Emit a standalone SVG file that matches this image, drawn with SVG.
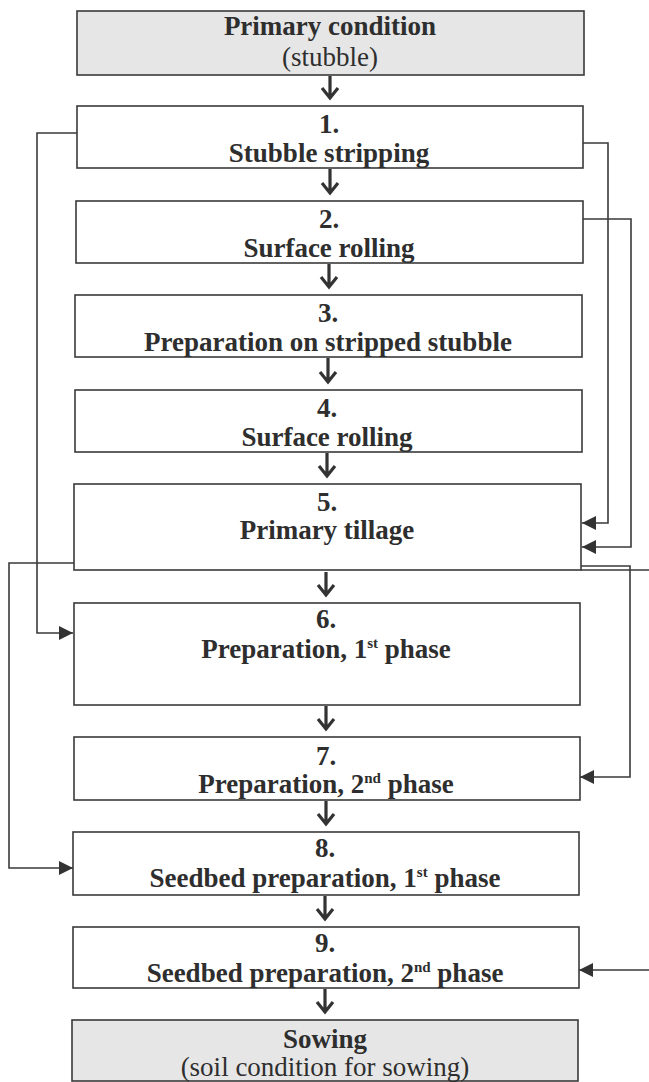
<svg xmlns="http://www.w3.org/2000/svg" width="649" height="1082" viewBox="0 0 649 1082">
<style>
.box{fill:#ffffff;stroke:#3a3a3a;stroke-width:1.6}
.gray{fill:#e6e6e6}
.t{font-family:"Liberation Serif","Times New Roman",serif;font-size:27px;font-weight:bold;fill:#2e2e2e;text-anchor:middle}
.r{font-weight:normal}
.sup{font-size:15px}
.conn{fill:none;stroke:#3a3a3a;stroke-width:1.6}
.down{fill:none;stroke:#333;stroke-width:3.2}
</style>
<defs>
<marker id="ah" markerUnits="userSpaceOnUse" markerWidth="14" markerHeight="14" refX="14" refY="7" orient="auto" viewBox="0 0 14 14">
<path d="M0,0 L14,7 L0,14 z" fill="#333"/>
</marker>
</defs>
<rect width="649" height="1082" fill="#ffffff"/>

<g id="connectors">
<path class="conn" d="M77,133 H37 V633 H73" marker-end="url(#ah)"/>
<path class="conn" d="M583,143 H608 V523 H582" marker-end="url(#ah)"/>
<path class="conn" d="M583,219 H631 V547 H582" marker-end="url(#ah)"/>
<path class="conn" d="M74,563 H9 V868 H73" marker-end="url(#ah)"/>
<path class="conn" d="M581,566 H630 V777 H580" marker-end="url(#ah)"/>
<path class="conn" d="M581,570 H660 V970 H579" marker-end="url(#ah)"/>
<path class="down" d="M330,76 V98 M322,88 L330,98 L338,88"/>
<path class="down" d="M330,169 V193 M322,183 L330,193 L338,183"/>
<path class="down" d="M329,264 V287 M321,277 L329,287 L337,277"/>
<path class="down" d="M328,358 V382 M320,372 L328,382 L336,372"/>
<path class="down" d="M327,453 V476 M319,466 L327,476 L335,466"/>
<path class="down" d="M326,572 V595 M318,585 L326,595 L334,585"/>
<path class="down" d="M326,706 V729 M318,719 L326,729 L334,719"/>
<path class="down" d="M326,801 V824 M318,814 L326,824 L334,814"/>
<path class="down" d="M325,896 V919 M317,909 L325,919 L333,909"/>
<path class="down" d="M325,989 V1012 M317,1002 L325,1012 L333,1002"/>
</g>

<g id="n0">
<rect class="box gray" x="77" y="11" width="507" height="64"/>
<text class="t" x="330" y="35">Primary condition</text>
<text class="t r" x="330" y="66" font-size="26">(stubble)</text>
</g>
<g id="n1">
<rect class="box" x="77" y="106" width="506" height="62"/>
<text class="t" x="329" y="133">1.</text>
<text class="t" x="329" y="162">Stubble stripping</text>
</g>
<g id="n2">
<rect class="box" x="76" y="201" width="507" height="62"/>
<text class="t" x="329" y="228">2.</text>
<text class="t" x="329" y="257">Surface rolling</text>
</g>
<g id="n3">
<rect class="box" x="75" y="295" width="507" height="62"/>
<text class="t" x="328" y="322">3.</text>
<text class="t" x="328" y="351">Preparation on stripped stubble</text>
</g>
<g id="n4">
<rect class="box" x="75" y="390" width="507" height="62"/>
<text class="t" x="327" y="417">4.</text>
<text class="t" x="327" y="446">Surface rolling</text>
</g>
<g id="n5">
<rect class="box" x="74" y="484" width="507" height="86"/>
<text class="t" x="327" y="511">5.</text>
<text class="t" x="327" y="539">Primary tillage</text>
</g>
<g id="n6">
<rect class="box" x="74" y="603" width="506" height="102"/>
<text class="t" x="326" y="628">6.</text>
<text class="t" x="326" y="658">Preparation, 1<tspan class="sup" dy="-10">st</tspan><tspan dy="10"> phase</tspan></text>
</g>
<g id="n7">
<rect class="box" x="74" y="737" width="506" height="63"/>
<text class="t" x="326" y="765">7.</text>
<text class="t" x="326" y="793">Preparation, 2<tspan class="sup" dy="-10">nd</tspan><tspan dy="10"> phase</tspan></text>
</g>
<g id="n8">
<rect class="box" x="73" y="832" width="506" height="63"/>
<text class="t" x="325" y="857">8.</text>
<text class="t" x="325" y="887">Seedbed preparation, 1<tspan class="sup" dy="-10">st</tspan><tspan dy="10"> phase</tspan></text>
</g>
<g id="n9">
<rect class="box" x="73" y="927" width="506" height="61"/>
<text class="t" x="325" y="952">9.</text>
<text class="t" x="325" y="982">Seedbed preparation, 2<tspan class="sup" dy="-10">nd</tspan><tspan dy="10"> phase</tspan></text>
</g>
<g id="n10">
<rect class="box gray" x="72" y="1020" width="506" height="61"/>
<text class="t" x="325" y="1048">Sowing</text>
<text class="t r" x="325" y="1076">(soil condition for sowing)</text>
</g>
</svg>
